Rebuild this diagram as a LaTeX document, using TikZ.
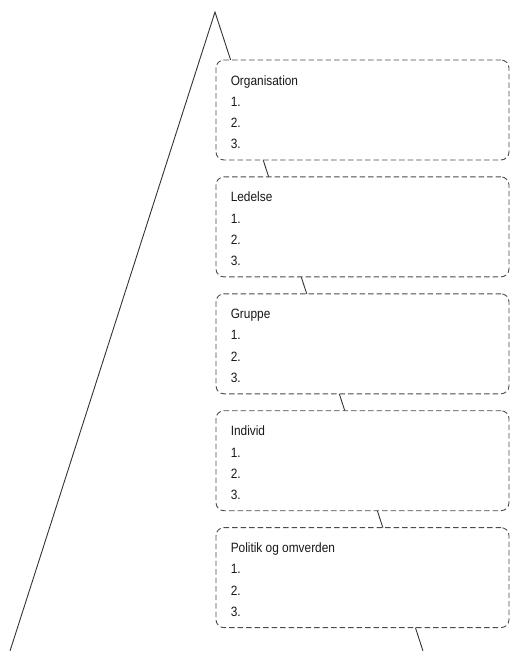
\documentclass[tikz,border=0pt]{standalone}
\usepackage{fontspec}
\setmainfont{Liberation Sans}[FakeStretch=0.88]
\usepackage{tikz}
\usetikzlibrary{positioning}

\begin{document}
\begin{tikzpicture}[x=1pt,y=-1pt,
    box/.style={draw=black!70, fill=white, line width=0.9pt, dash pattern=on 5.5pt off 3pt, rounded corners=8pt, minimum width=293pt, minimum height=100pt, inner sep=0pt},
    item/.style={align=left, inner sep=0pt, text=black!90, font=\fontsize{13.5}{21.3}\selectfont},
    side/.style={draw=black!80, line width=0.9pt}]
    \useasboundingbox (0,0) rectangle (511,651);

    \coordinate (top) at (215,12);
    \coordinate (bl) at (10,651);
    \coordinate (br) at (423,651);
    \draw[side] (bl) -- (top) -- (br);

    \node[box] (org) at (362.5,110) {};
    \node[box, below=16pt of org] (led) {};
    \node[box, below=16pt of led] (grp) {};
    \node[box, below=16pt of grp] (ind) {};
    \node[box, below=16pt of ind] (pol) {};

    \node[item, below right=15.5pt and 15pt of org.north west] (orgtxt) {Organisation\\1.\\2.\\3.};
    \node[item, below right=15.5pt and 15pt of led.north west] (ledtxt) {Ledelse\\1.\\2.\\3.};
    \node[item, below right=15.5pt and 15pt of grp.north west] (grptxt) {Gruppe\\1.\\2.\\3.};
    \node[item, below right=15.5pt and 15pt of ind.north west] (indtxt) {Individ\\1.\\2.\\3.};
    \node[item, below right=15.5pt and 15pt of pol.north west] (poltxt) {Politik og omverden\\1.\\2.\\3.};
\end{tikzpicture}
\end{document}
